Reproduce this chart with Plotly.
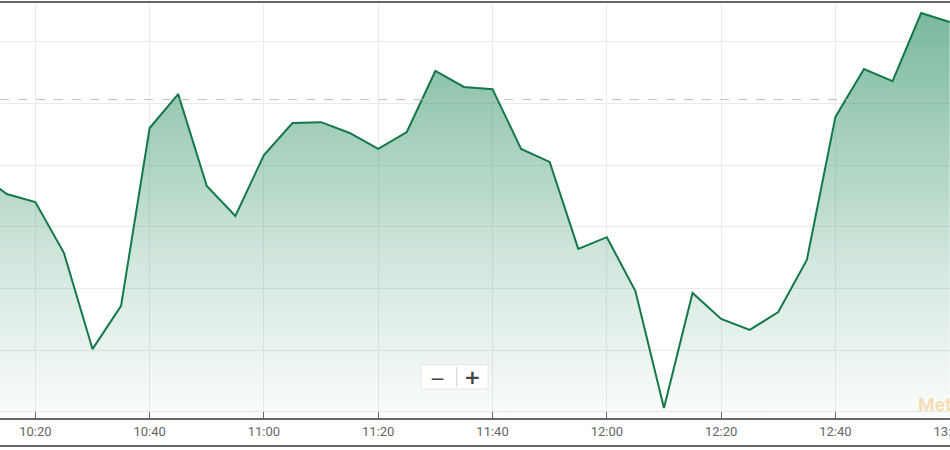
import plotly.graph_objects as go

# ---- data ----
times = ["2024-01-02 10:10", "2024-01-02 10:15", "2024-01-02 10:20", "2024-01-02 10:25",
         "2024-01-02 10:30", "2024-01-02 10:35", "2024-01-02 10:40", "2024-01-02 10:45",
         "2024-01-02 10:50", "2024-01-02 10:55", "2024-01-02 11:00", "2024-01-02 11:05",
         "2024-01-02 11:10", "2024-01-02 11:15", "2024-01-02 11:20", "2024-01-02 11:25",
         "2024-01-02 11:30", "2024-01-02 11:35", "2024-01-02 11:40", "2024-01-02 11:45",
         "2024-01-02 11:50", "2024-01-02 11:55", "2024-01-02 12:00", "2024-01-02 12:05",
         "2024-01-02 12:10", "2024-01-02 12:15", "2024-01-02 12:20", "2024-01-02 12:25",
         "2024-01-02 12:30", "2024-01-02 12:35", "2024-01-02 12:40", "2024-01-02 12:45",
         "2024-01-02 12:50", "2024-01-02 12:55", "2024-01-02 13:00"]
prices = [30.775, 30.707, 30.681, 30.516, 30.204, 30.344, 30.921, 31.031,
          30.733, 30.636, 30.833, 30.937, 30.940, 30.905, 30.853, 30.908,
          31.106, 31.054, 31.047, 30.853, 30.811, 30.529, 30.567, 30.392,
          30.013, 30.386, 30.302, 30.266, 30.324, 30.493, 30.957, 31.112,
          31.073, 31.294, 31.265]
prev_close = 31.013
x_range = ["2024-01-02 10:13:49", "2024-01-02 13:00:03"]
y_range = [29.9805, 31.3264]
y_grid = [30.0, 30.2, 30.4, 30.6, 30.8, 31.0, 31.2]

fig = go.Figure()

fig.add_trace(go.Scatter(
    x=times, y=prices, mode="lines",
    line=dict(color="#14784a", width=2),
    fill="tozeroy",
    fillgradient=dict(
        type="vertical",
        start=y_range[0], stop=y_range[1],
        colorscale=[[0.0, "rgba(20,130,80,0.02)"],
                    [0.35, "rgba(20,130,80,0.18)"],
                    [1.0, "rgba(20,130,80,0.58)"]],
    ),
    hoverinfo="x+y", showlegend=False,
))

# previous close dashed line
fig.add_shape(type="line", xref="paper", x0=0, x1=1, yref="y", y0=prev_close, y1=prev_close,
              line=dict(color="#bdbdbd", width=1, dash="dash"), layer="above")

# bottom frame line
fig.add_shape(type="line", xref="paper", x0=0, x1=1, yref="paper", y0=-0.0675, y1=-0.0675,
              line=dict(color="#666666", width=2))

# zoom buttons
fig.add_shape(type="rect", xref="paper", yref="paper",
              x0=421 / 950, x1=488 / 950, y0=(418 - 389) / 415, y1=(418 - 364.5) / 415,
              fillcolor="rgba(255,255,255,0.95)", line=dict(color="rgba(225,225,225,0.8)", width=1),
              layer="above")
fig.add_shape(type="line", xref="paper", yref="paper",
              x0=456.7 / 950, x1=456.7 / 950, y0=(418 - 387) / 415, y1=(418 - 367) / 415,
              line=dict(color="#d0d0d0", width=1), layer="above")
fig.add_annotation(xref="paper", yref="paper", x=437.7 / 950, y=(418 - 378) / 415,
                   yanchor="middle",
                   text="<b>—</b>", showarrow=False, font=dict(family="DejaVu Sans", size=13, color="#444444"))
fig.add_annotation(xref="paper", yref="paper", x=472.3 / 950, y=(418 - 378) / 415,
                   yanchor="middle", yshift=1,
                   text="<b>+</b>", showarrow=False, font=dict(family="DejaVu Sans", size=20, color="#444444"))

# watermark
fig.add_annotation(xref="paper", yref="paper", x=916 / 950, y=(418 - 404.5) / 415,
                   xanchor="left", yanchor="middle", text="<b>Met</b>", showarrow=False,
                   font=dict(family="Roboto", size=19, color="rgba(245,170,60,0.38)"))

fig.update_layout(
    width=950, height=450,
    margin=dict(l=0, r=0, t=3, b=32, autoexpand=False),
    paper_bgcolor="white", plot_bgcolor="white",
    showlegend=False,
    xaxis=dict(
        type="date", range=x_range, automargin=False,
        tickformat="%H:%M", tick0="2024-01-02 10:20", dtick=20 * 60 * 1000,
        ticklabeloverflow="allow",
        showgrid=True, gridcolor="#ebebeb", gridwidth=1,
        showline=True, linecolor="#666666", linewidth=2, mirror=True,
        ticks="inside", ticklen=6, tickcolor="#666666", tickwidth=1,
        tickfont=dict(family="Roboto", size=13, color="#666666"),
        zeroline=False, fixedrange=True,
    ),
    yaxis=dict(
        range=y_range, tickvals=y_grid, showticklabels=False, automargin=False,
        showgrid=True, gridcolor="#ebebeb", gridwidth=1,
        zeroline=False, showline=False, fixedrange=True,
    ),
)

fig.write_html("out.html", config={"displayModeBar": False},
               post_script="document.body.style.margin='0px';document.body.style.overflow='hidden';")
